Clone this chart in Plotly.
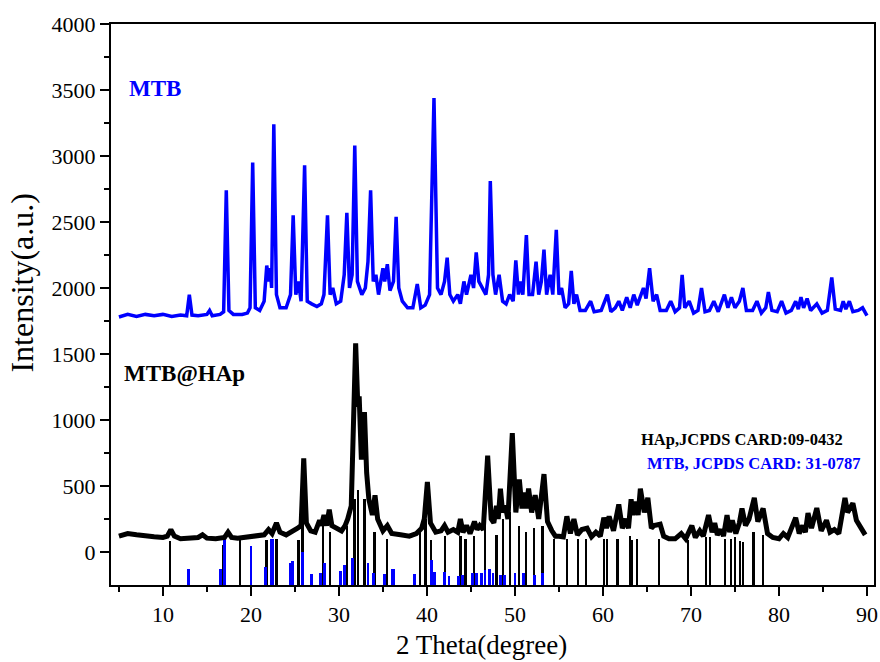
import plotly.graph_objects as go

# ---- MTB pattern (blue) : key vertices ----
mtb_x = [5.0, 6.0, 7.0, 8.0, 9.0, 10.0, 11.0, 12.0, 12.7, 13.0, 13.3, 14.0, 15.0, 15.3, 15.6, 16.5, 16.9, 17.2, 17.5,
         18.0, 19.0, 19.6, 19.9, 20.2, 20.5, 21.0, 21.5, 21.8, 22.0, 22.2, 22.35, 22.6, 22.9, 23.3, 24.0, 24.5, 24.8,
         25.1, 25.4, 25.7, 26.1, 26.4, 26.9, 27.5, 28.0, 28.3, 28.7, 29.0, 29.3, 29.7, 30.2, 30.6, 30.9, 31.2, 31.5,
         31.8, 32.1, 32.3, 32.6, 33.0, 33.3, 33.6, 33.9, 34.2, 34.5, 35.0, 35.2, 35.5, 35.8, 36.2, 36.5, 36.8, 37.2,
         37.8, 38.4, 38.9, 39.3, 39.8, 40.3, 40.8, 41.2, 41.6, 42.0, 42.3, 42.6, 43.0, 43.5, 43.8, 44.2, 44.5, 45.0,
         45.3, 45.6, 45.9, 46.3, 46.7, 47.0, 47.2, 47.5, 47.8, 48.2, 48.6, 49.0, 49.4, 49.8, 50.1, 50.4, 50.6, 50.9,
         51.3, 51.6, 52.0, 52.4, 52.7, 53.0, 53.3, 53.6, 54.0, 54.3, 54.7, 55.0, 55.3, 55.7, 56.1, 56.4, 56.7, 57.0,
         57.4, 58.0, 58.6, 59.0, 59.8, 60.5, 60.9, 61.4, 61.8, 62.2, 62.7, 63.1, 63.5, 63.9, 64.3, 64.6, 64.9, 65.3,
         65.7, 66.1, 66.5, 67.2, 67.7, 68.2, 68.7, 69.0, 69.3, 69.8, 70.3, 70.8, 71.2, 71.6, 72.1, 72.6, 73.1, 73.8,
         74.2, 74.6, 75.0, 75.5, 75.9, 76.3, 77.0, 77.5, 78.0, 78.5, 78.8, 79.2, 79.8, 80.3, 80.8, 81.4, 81.9, 82.2,
         82.5, 82.8, 83.2, 83.6, 84.3, 84.9, 85.5, 86.0, 86.4, 87.0, 87.3, 87.6, 88.0, 88.4, 89.0, 89.5, 90.0]
mtb_y = [1780, 1800, 1785, 1800, 1790, 1800, 1785, 1795, 1790, 1950, 1795, 1790, 1800, 1830, 1790, 1800, 1820, 2740, 1830,
         1800, 1800, 1810, 1850, 2950, 1850, 1830, 1900, 2170, 2050, 2150, 2000, 3240, 1950, 1850, 1850, 1950, 2550,
         1950, 2050, 1900, 2930, 1900, 1880, 1860, 1880, 1950, 2550, 1950, 2000, 1880, 1900, 2100, 2570, 2000, 2100,
         3080, 2050, 2000, 1950, 2000, 2200, 2740, 2050, 2100, 1950, 2150, 2050, 2180, 1980, 2050, 2540, 2000, 1900,
         1850, 1850, 2030, 1850, 1870, 1950, 3440, 2000, 1950, 2050, 2230, 1950, 1900, 1950, 1880, 2050, 1950, 2100,
         2000, 2270, 2050, 2000, 1950, 2100, 2810, 2100, 1950, 2100, 1900, 1880, 1950, 1900, 2210, 1950, 2050, 1950,
         2400, 1950, 1950, 2200, 1950, 2050, 2290, 1950, 2100, 1950, 2440, 1950, 2000, 1850, 1880, 2130, 1880, 1950,
         1830, 1830, 1900, 1820, 1830, 1950, 1820, 1850, 1900, 1830, 1930, 1850, 1950, 1870, 1950, 2000, 1920, 2150,
         1900, 1950, 1830, 1830, 1900, 1820, 1850, 2100, 1850, 1900, 1810, 1830, 2000, 1820, 1830, 1900, 1820, 1950,
         1850, 1930, 1850, 1900, 2000, 1830, 1830, 1900, 1810, 1850, 1970, 1830, 1820, 1900, 1810, 1830, 1900, 1840,
         1930, 1850, 1920, 1830, 1880, 1810, 1830, 2080, 1840, 1830, 1900, 1840, 1900, 1820, 1830, 1850, 1790]

# ---- MTB@HAp pattern (black) ----
hap_x = [5.0, 6.0, 7.0, 8.0, 9.0, 10.0, 10.5, 10.9, 11.3, 12.0, 13.0, 14.0, 14.5, 15.0, 16.0, 17.0, 17.4, 17.8, 18.5,
         19.5, 20.5, 21.5, 22.0, 22.4, 22.9, 23.3, 24.0, 24.6, 25.3, 25.7, 26.0, 26.3, 26.8, 27.3, 27.8, 28.0, 28.3,
         28.6, 28.9, 29.2, 29.8, 30.3, 30.7, 31.0, 31.4, 31.9, 32.15, 32.3, 32.55, 32.9, 33.15, 33.4, 33.8, 34.1,
         34.4, 35.0, 35.5, 36.0, 37.0, 38.0, 38.8, 39.4, 39.7, 40.05, 40.4, 41.0, 41.6, 42.0, 42.4, 43.0, 43.5, 43.8,
         44.1, 44.5, 44.9, 45.4, 45.7, 46.0, 46.4, 46.9, 47.3, 47.6, 47.9, 48.1, 48.35, 48.6, 48.9, 49.2, 49.7, 50.1,
         50.5, 50.8, 51.05, 51.3, 51.55, 51.9, 52.3, 52.7, 53.3, 53.7, 54.2, 54.6, 55.0, 55.5, 55.9, 56.3, 56.7, 57.1,
         57.6, 58.2, 58.7, 59.2, 59.7, 60.1, 60.4, 60.7, 61.2, 61.8, 62.2, 62.6, 62.9, 63.2, 63.4, 63.7, 64.0, 64.25,
         64.7, 65.1, 65.5, 65.8, 66.5, 66.9, 67.5, 68.2, 68.9, 69.4, 70.1, 70.5, 71.0, 71.4, 72.0, 72.4, 72.7, 73.0,
         73.4, 73.7, 74.1, 74.4, 74.7, 75.1, 75.5, 75.8, 76.2, 76.6, 77.2, 77.6, 77.9, 78.2, 78.7, 79.3, 80.0, 80.5,
         81.0, 81.9, 82.3, 82.7, 83.0, 83.3, 83.7, 84.3, 84.8, 85.4, 85.8, 86.3, 86.8, 87.5, 87.8, 88.1, 88.4, 88.8,
         89.3, 89.8]
hap_y = [120, 140, 130, 120, 115, 110, 120, 170, 120, 100, 105, 110, 130, 105, 100, 110, 150, 110, 105,
         115, 120, 130, 170, 140, 220, 150, 130, 150, 180, 200, 710, 220, 160, 150, 240, 200, 280,
         200, 320, 200, 180, 160, 200, 250, 350, 1580, 1100, 1180, 700, 1060, 600, 400, 280, 430,
         250, 160, 200, 140, 130, 120, 140, 180, 250, 530, 220, 150, 160, 200, 150, 170, 150, 250,
         150, 200, 140, 230, 170, 200, 170, 730, 250, 220, 350, 250, 480, 300, 350, 250, 900, 300,
         550, 330, 450, 330, 480, 300, 430, 250, 590, 230, 160, 120, 120, 115, 270, 140, 250, 130,
         170, 180, 115, 150, 120, 260, 180, 270, 160, 360, 180, 250, 180, 400, 280, 380, 280, 480,
         300, 410, 180, 200, 210, 120, 100, 100, 140, 100, 200, 110, 160, 120, 280, 150, 220, 130,
         170, 120, 280, 150, 240, 140, 220, 330, 200, 250, 410, 230, 280, 330, 140, 110, 100, 140,
         110, 260, 140, 200, 150, 295, 180, 333, 160, 240, 150, 170, 140, 410, 300, 340, 370, 240,
         180, 130]

# ---- Standard cards: line positions and top intensities ----
hap_card_pos = [10.82, 16.84, 18.75, 21.78, 22.90, 25.40, 25.85, 28.15, 28.95, 30.90, 31.77, 32.20, 32.90, 34.05,
                35.48, 39.20, 39.82, 40.45, 42.03, 43.80, 44.37, 45.31, 46.60, 47.90, 48.62, 49.47, 50.49, 51.28,
                52.20, 53.14, 54.44, 55.88, 57.13, 58.07, 60.10, 60.46, 61.66, 63.05, 63.30, 63.90, 66.40, 69.65,
                71.70, 72.20, 73.90, 74.55, 75.00, 75.60, 75.95, 77.10, 78.20]
hap_card_top = [80, 50, 90, 90, 100, 90, 300, 250, 150, 200, 400, 470, 400, 150,
                100, 150, 250, 90, 120, 120, 100, 120, 300, 130, 250, 300, 200, 150,
                180, 200, 100, 100, 100, 100, 100, 100, 100, 120, 90, 100, 100, 90,
                110, 110, 100, 100, 110, 80, 75, 150, 130]

mtb_card_pos = [12.9, 16.5, 17.0, 20.0, 21.7, 22.3, 22.45, 24.5, 24.7, 25.9, 26.9, 27.9, 28.4, 30.2, 30.6, 31.5,
                33.3, 33.9, 35.2, 36.1, 36.25, 38.6, 40.5, 40.9, 42.0, 42.5, 43.6, 44.0, 45.2, 45.6, 46.2, 46.6,
                47.1, 47.5, 48.4, 48.8, 50.0, 51.0, 52.2, 53.1]
mtb_card_top = [-130, -130, 95, 45, -115, 95, 95, -85, -70, 0, -165, -160, -85, -145, -100, -45,
                -85, -160, -165, -130, -130, -165, -60, -150, -150, -180, -180, -175, -160, -160, -160, -135,
                -130, -160, -175, -175, -160, -160, -175, -160]

card_base = -250
x_ticks = [10, 20, 30, 40, 50, 60, 70, 80, 90]
y_ticks = [0, 500, 1000, 1500, 2000, 2500, 3000, 3500, 4000]

FONT = "Liberation Serif, Times New Roman, serif"
BLUE = "#0000FF"

fig = go.Figure()
fig.add_trace(go.Bar(x=hap_card_pos, y=[t - card_base for t in hap_card_top], base=card_base,
                     width=0.26, marker=dict(color="black", line=dict(width=0)), showlegend=False))
fig.add_trace(go.Bar(x=mtb_card_pos, y=[t - card_base for t in mtb_card_top], base=card_base,
                     width=0.32, marker=dict(color=BLUE, line=dict(width=0)), showlegend=False))
fig.add_trace(go.Scatter(x=hap_x, y=hap_y, mode="lines", line=dict(color="black", width=5),
                         showlegend=False))
fig.add_trace(go.Scatter(x=mtb_x, y=mtb_y, mode="lines", line=dict(color=BLUE, width=3.5),
                         showlegend=False))

fig.add_annotation(x=5.9, y=3515, text="<b>MTB</b>", showarrow=False, xanchor="left", yanchor="middle",
                   font=dict(family=FONT, size=23, color=BLUE))
fig.add_annotation(x=5.4, y=1350, text="<b>MTB@HAp</b>", showarrow=False, xanchor="left", yanchor="middle",
                   font=dict(family=FONT, size=23, color="black"))
fig.add_annotation(x=64.1, y=856, text="<b>HAp,JCPDS CARD:09-0432</b>", showarrow=False, xanchor="left",
                   yanchor="middle", font=dict(family=FONT, size=16.5, color="black"))
fig.add_annotation(x=64.8, y=674, text="<b>MTB, JCPDS CARD: 31-0787</b>", showarrow=False, xanchor="left",
                   yanchor="middle", font=dict(family=FONT, size=16.5, color=BLUE))

# axis titles placed as paper-anchored text
fig.add_annotation(xref="paper", yref="paper", x=0.485, y=-0.107, text="2 Theta(degree)", showarrow=False,
                   xanchor="center", yanchor="middle", font=dict(family=FONT, size=27, color="black"))
fig.add_annotation(xref="paper", yref="paper", x=-0.116, y=0.54, text="Intensity(a.u.)", showarrow=False,
                   textangle=-90, xanchor="center", yanchor="middle", font=dict(family=FONT, size=32, color="black"))

axis_common = dict(showgrid=False, zeroline=False, showline=True, linecolor="black", linewidth=2,
                   mirror=True, ticks="outside", ticklen=9, tickwidth=2, tickcolor="black",
                   automargin=False, tickfont=dict(family=FONT, size=22, color="black"))
fig.update_xaxes(range=[4.1, 90.8], tickvals=x_ticks,
                 minor=dict(tickvals=[5, 15, 25, 35, 45, 55, 65, 75, 85], ticks="outside", ticklen=5,
                            tickwidth=2, tickcolor="black"),
                 **axis_common)
fig.update_yaxes(range=[-250, 4000], tickvals=y_ticks,
                 minor=dict(tickvals=[250, 750, 1250, 1750, 2250, 2750, 3250, 3750], ticks="outside", ticklen=5,
                            tickwidth=2, tickcolor="black"),
                 **axis_common)
fig.update_layout(width=880, height=662, margin=dict(l=111, r=6, t=24, b=77),
                  plot_bgcolor="white", paper_bgcolor="white", bargap=0, barmode="overlay")
fig.write_html("out.html")
